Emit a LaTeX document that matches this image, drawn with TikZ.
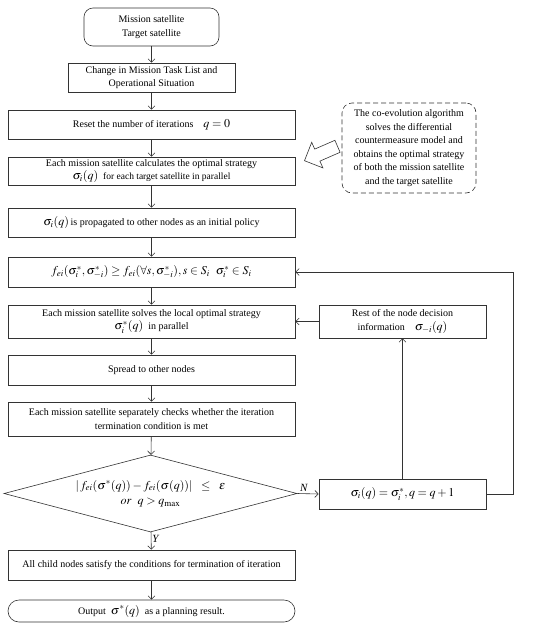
\documentclass[tikz,border=0pt]{standalone}
\usepackage{mathptmx}
\usepackage{fontspec}
\setmainfont{Liberation Serif}
\usetikzlibrary{arrows.meta,shapes.geometric}
\newcommand{\mth}[1]{{\fontsize{12}{13}\selectfont$#1$}}
\tikzset{
  every node/.style={font=\fontsize{10}{13.5}\selectfont, align=center, inner sep=1pt},
  box/.style={draw=black!80, line width=0.6pt, minimum width=287pt, minimum height=29pt},
  rbox/.style={draw=black!80, line width=0.6pt, minimum width=167pt, minimum height=30pt},
  arr/.style={draw=black!80, line width=0.6pt, -{Straight Barb[length=3.5pt,width=7pt]}},
  lbl/.style={font=\fontsize{11}{12}\selectfont\itshape, inner sep=1pt},
}
\begin{document}
\begin{tikzpicture}[x=1pt,y=-1pt]
\useasboundingbox (0,0) rectangle (550,630);
\node[draw=black!80, line width=0.6pt, rounded corners=9pt, minimum width=135pt, minimum height=38pt] (start) at (151.5,27) {Mission satellite\\Target satellite};
\node[draw=black!80, line width=0.6pt, minimum width=167pt, minimum height=29pt] (change) at (151.5,77.5) {Change in Mission Task List and\\Operational Situation};
\node[box] (reset) at (151.5,124.5) {Reset the number of iterations\quad\mth{q = 0}};
\node[box, minimum height=28pt] (calc) at (151.5,171) {Each mission satellite calculates the optimal strategy\\\mth{\sigma_i(q)}\ \ {\fontsize{9.5}{13}\selectfont for each target satellite in parallel}};
\node[box] (prop) at (151.5,222.5) {\mth{\sigma_i(q)}\,is propagated to other nodes as an initial policy};
\node[box, minimum height=30pt] (fei) at (151.5,272) {\mth{f_{ei}(\sigma_i^*,\sigma_{-i}^*) \ge f_{ei}(\forall s,\sigma_{-i}^*), s\in S_i\ \ \sigma_i^*\in S_i}};
\node[box, minimum height=33pt] (solve) at (151.5,321.5) {Each mission satellite solves the local optimal strategy\\\mth{\sigma_i^*(q)}\ \ in parallel};
\node[box, minimum height=30pt] (spread) at (151.5,370) {Spread to other nodes};
\node[box, minimum height=34pt] (check) at (151.5,419) {Each mission satellite separately checks whether the iteration\\termination condition is met};
\node[draw=black!80, line width=0.6pt, diamond, aspect=3.8, inner sep=0pt, minimum width=293pt, minimum height=77pt] (dec) at (150.5,493.5) {\mth{|\,f_{ei}(\sigma^*(q)) - f_{ei}(\sigma(q))|\ \ \le\ \ \varepsilon}\\[2pt]\mth{or\ \ q > q_{\max}}};
\node[box, minimum height=30pt] (child) at (151.5,565) {All child nodes satisfy the conditions for termination of iteration};
\node[draw=black!80, line width=0.6pt, rounded corners=11pt, minimum width=287pt, minimum height=22pt] (out) at (151.5,611) {Output\ \ \mth{\sigma^*(q)}\ \ as a planning result.};
\node[rbox, minimum height=33pt] (rest) at (402.5,321.5) {Rest of the node decision\\information\quad\mth{\sigma_{-i}(q)}};
\node[rbox] (upd) at (402.5,494) {\mth{\sigma_i(q) = \sigma_i^*, q = q+1}};
\node[draw=black!80, line width=0.6pt, dashed, dash pattern=on 5pt off 3pt, rounded corners=10pt, minimum width=134pt, minimum height=90pt, font=\fontsize{10}{13.5}\selectfont] (note) at (409,148) {The co-evolution algorithm\\solves the differential\\countermeasure model and\\obtains the optimal strategy\\of both the mission satellite\\and the target satellite};
% block arrow
\draw[black!80, line width=0.6pt, fill=white] (304.5,160.7) -- (322.9,167.9) -- (319.9,161.1) -- (340.1,152.3) -- (334.9,140.3) -- (314.7,149.1) -- (311.7,142.3) -- cycle;
% connectors
\draw[arr] (start) -- (change);
\draw[arr] (change) -- (reset);
\draw[arr] (reset) -- (calc);
\draw[arr] (calc) -- (prop);
\draw[arr] (prop) -- (fei);
\draw[arr] (fei) -- (solve);
\draw[arr] (solve) -- (spread);
\draw[arr] (spread) -- (check);
\draw[arr] (check) -- (dec);
\draw[arr] (dec) -- node[right, lbl, pos=0.4] {Y} (child);
\draw[arr] (child) -- (out);
\draw[arr] (dec.east) -- node[above, lbl, pos=0.3, yshift=1pt] {N} (upd.west);
\draw[arr] (upd.north) -- (rest.south);
\draw[arr] (rest.west) -- (solve.east);
\draw[arr] (upd.east) -- ++(27,0) |- (fei.east);
\end{tikzpicture}
\end{document}
